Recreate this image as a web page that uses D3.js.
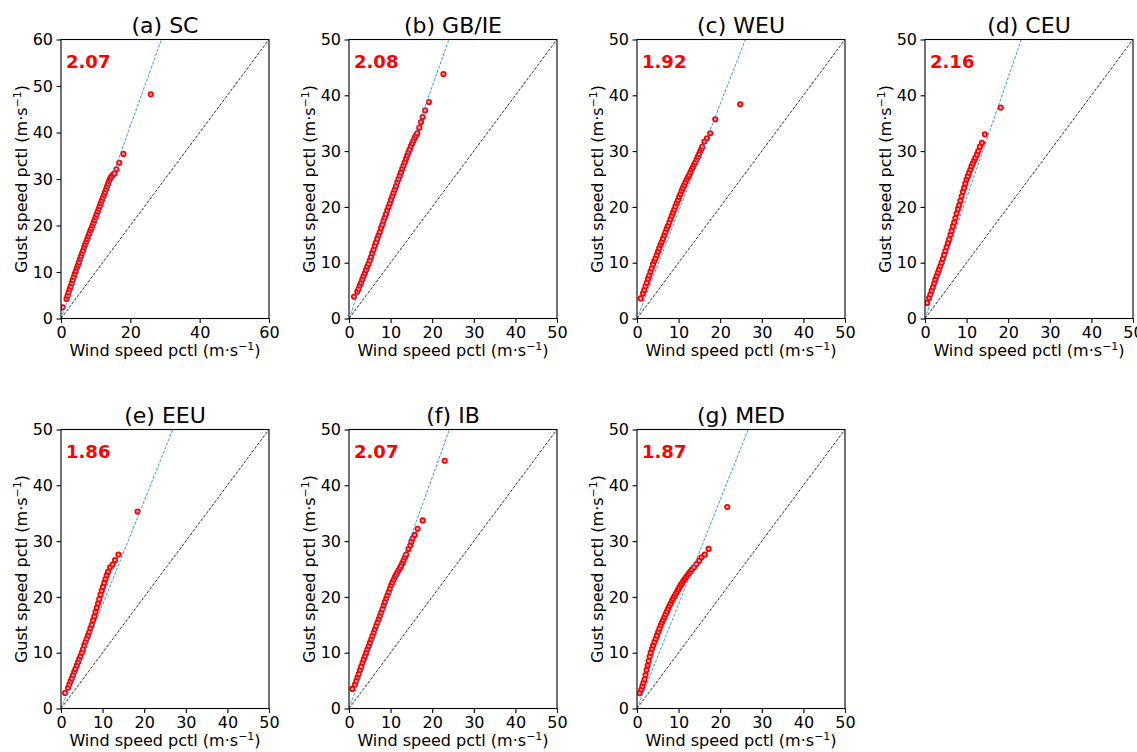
<!DOCTYPE html>
<html><head><meta charset="utf-8">
<script src="https://cdn.jsdelivr.net/npm/d3@7"></script>
<style>
body{margin:0;background:#fff}
text{font-family:"DejaVu Sans",sans-serif;fill:#000}
</style>
</head><body>
<svg id="c" width="1137" height="752"></svg>
<script>
// ---------------- data ----------------
const letters = ["a","b","c","d","e","f","g"];
const regions = ["SC","GB/IE","WEU","CEU","EEU","IB","MED"];
const ratios = [2.07,2.08,1.92,2.16,1.86,2.07,1.87];
const axisMax = [60,50,50,50,50,50,50];
const xTicks60 = [0,20,40,60];
const yTicks60 = [0,10,20,30,40,50,60];
const ticks50 = [0,10,20,30,40,50];

// [wind pctl, gust pctl] pairs
const ptsSC = [[0.5,2.4],[1.6,4.2],[1.9,4.9],[2.2,5.6],[2.5,6.3],[2.8,6.9],[3.1,7.6],[3.4,8.3],[3.7,8.9],[4.0,9.6],[4.3,10.2],[4.6,10.9],[4.9,11.5],[5.2,12.1],[5.5,12.8],[5.8,13.4],[6.1,14.0],[6.4,14.6],[6.7,15.3],[7.0,15.9],[7.3,16.5],[7.6,17.1],[7.9,17.7],[8.2,18.3],[8.5,18.9],[8.8,19.4],[9.1,20.0],[9.4,20.6],[9.7,21.2],[10.0,21.8],[10.3,22.4],[10.6,23.0],[10.9,23.6],[11.2,24.2],[11.5,24.8],[11.8,25.4],[12.1,26.0],[12.4,26.6],[12.7,27.2],[13.0,27.8],[13.3,28.4],[13.6,29.0],[13.9,29.6],[14.2,30.1],[14.5,30.5],[15.0,30.9],[15.4,31.2],[16.0,32.1],[16.8,33.5],[18.0,35.4],[25.9,48.2]];
const ptsGBIE = [[1.2,3.9],[2.0,4.8],[2.3,5.3],[2.6,5.9],[2.9,6.4],[3.2,7.0],[3.5,7.6],[3.8,8.1],[4.1,8.7],[4.4,9.3],[4.7,9.8],[5.0,10.4],[5.3,11.0],[5.6,11.7],[5.9,12.3],[6.2,13.0],[6.5,13.6],[6.8,14.3],[7.1,14.9],[7.4,15.5],[7.7,16.2],[8.0,16.8],[8.3,17.5],[8.6,18.1],[8.9,18.7],[9.2,19.4],[9.5,20.0],[9.8,20.6],[10.1,21.3],[10.4,21.9],[10.7,22.5],[11.0,23.1],[11.3,23.7],[11.6,24.4],[11.9,25.0],[12.2,25.6],[12.5,26.2],[12.8,26.8],[13.1,27.4],[13.4,28.0],[13.7,28.6],[14.0,29.2],[14.3,29.8],[14.6,30.3],[14.9,30.9],[15.2,31.4],[15.5,31.9],[15.8,32.4],[16.1,32.8],[16.4,33.2],[16.9,34.2],[17.3,35.2],[17.7,36.1],[18.3,37.3],[19.2,38.8],[22.7,43.8]];
const ptsWEU = [[0.9,3.6],[1.45,4.5],[1.75,5.1],[2.05,5.8],[2.35,6.4],[2.65,7.1],[2.95,7.7],[3.25,8.4],[3.55,9.0],[3.85,9.7],[4.15,10.3],[4.45,10.8],[4.75,11.4],[5.05,12.0],[5.35,12.6],[5.65,13.2],[5.95,13.7],[6.25,14.3],[6.55,14.9],[6.85,15.5],[7.15,16.1],[7.45,16.6],[7.75,17.2],[8.05,17.8],[8.35,18.4],[8.65,19.0],[8.95,19.5],[9.25,20.1],[9.55,20.7],[9.85,21.2],[10.15,21.8],[10.45,22.3],[10.75,22.9],[11.05,23.4],[11.35,23.9],[11.65,24.4],[11.95,24.9],[12.25,25.3],[12.55,25.7],[12.85,26.2],[13.15,26.7],[13.45,27.1],[13.75,27.6],[14.05,28.0],[14.35,28.5],[14.65,29.0],[14.95,29.5],[15.25,30.0],[15.5,30.4],[15.7,30.8],[16.2,31.7],[16.8,32.3],[17.6,33.2],[18.8,35.7],[24.8,38.4]];
const ptsCEU = [[0.5,2.8],[1.0,3.7],[1.3,4.3],[1.6,5.0],[1.9,5.6],[2.2,6.3],[2.5,7.0],[2.8,7.6],[3.1,8.2],[3.4,8.8],[3.7,9.4],[4.0,10.0],[4.3,10.7],[4.6,11.4],[4.9,12.1],[5.2,12.8],[5.5,13.5],[5.8,14.2],[6.1,15.0],[6.4,15.7],[6.7,16.5],[7.0,17.2],[7.3,18.0],[7.6,18.8],[7.9,19.6],[8.2,20.3],[8.5,21.1],[8.8,21.9],[9.1,22.7],[9.4,23.4],[9.7,24.2],[10.0,24.9],[10.3,25.5],[10.6,26.1],[10.9,26.7],[11.2,27.3],[11.5,27.8],[11.8,28.3],[12.1,28.8],[12.5,29.4],[12.8,30.0],[13.2,30.8],[13.7,31.5],[14.4,33.0],[18.2,37.8]];
const ptsEEU = [[1.0,2.8],[1.7,3.7],[2.0,4.3],[2.3,4.9],[2.6,5.4],[2.9,6.0],[3.2,6.6],[3.5,7.1],[3.8,7.7],[4.1,8.3],[4.4,8.9],[4.7,9.4],[5.0,10.0],[5.3,10.6],[5.6,11.3],[5.9,11.9],[6.2,12.5],[6.5,13.1],[6.8,13.7],[7.1,14.4],[7.4,15.0],[7.7,15.8],[8.0,16.5],[8.3,17.3],[8.6,18.1],[8.9,18.8],[9.2,19.6],[9.5,20.4],[9.8,21.1],[10.1,21.8],[10.4,22.5],[10.7,23.2],[11.0,23.9],[11.3,24.5],[11.8,25.3],[12.4,25.8],[13.0,26.6],[13.8,27.6],[18.4,35.3]];
const ptsIB = [[0.8,3.5],[1.45,4.3],[1.75,4.9],[2.05,5.6],[2.35,6.2],[2.65,6.9],[2.95,7.5],[3.25,8.2],[3.55,8.8],[3.85,9.4],[4.15,10.0],[4.45,10.6],[4.75,11.2],[5.05,11.8],[5.35,12.4],[5.65,13.0],[5.95,13.6],[6.25,14.2],[6.55,14.8],[6.85,15.4],[7.15,16.0],[7.45,16.6],[7.75,17.2],[8.05,17.8],[8.35,18.5],[8.65,19.1],[8.95,19.7],[9.25,20.3],[9.55,20.9],[9.85,21.5],[10.15,22.1],[10.45,22.6],[10.75,23.1],[11.05,23.6],[11.35,24.0],[11.65,24.4],[11.95,24.8],[12.25,25.2],[12.55,25.6],[12.85,26.1],[13.15,26.6],[13.45,27.1],[13.75,27.6],[14.3,28.6],[14.7,29.2],[15.0,29.9],[15.3,30.5],[15.8,31.1],[16.5,32.2],[17.7,33.7],[23.0,44.4]];
const ptsMED = [[0.65,2.75],[1.05,3.4],[1.3,4.0],[1.55,4.6],[1.8,5.2],[2.05,6.0],[2.3,6.9],[2.55,7.7],[2.8,8.5],[3.05,9.3],[3.3,10.0],[3.6,10.7],[3.9,11.3],[4.2,11.9],[4.5,12.5],[4.8,13.1],[5.1,13.7],[5.4,14.3],[5.7,14.9],[6.0,15.4],[6.3,15.9],[6.6,16.4],[6.9,16.9],[7.2,17.4],[7.5,17.9],[7.8,18.4],[8.1,18.8],[8.4,19.3],[8.7,19.7],[9.0,20.1],[9.3,20.5],[9.6,20.9],[9.9,21.3],[10.2,21.7],[10.5,22.1],[10.8,22.4],[11.1,22.8],[11.4,23.1],[11.7,23.4],[12.0,23.7],[12.3,24.0],[12.6,24.3],[12.9,24.6],[13.2,24.9],[13.7,25.3],[14.3,25.9],[14.95,26.5],[15.5,27.1],[16.3,27.6],[17.2,28.6],[21.7,36.1]];
const allPoints = [ptsSC, ptsGBIE, ptsWEU, ptsCEU, ptsEEU, ptsIB, ptsMED];

// ---------------- layout ----------------
const colLeft = [61, 349, 637, 925];
const rowTop = [39.5, 429.5];
const W = 208, H = 279;
const svg = d3.select("#c");

function unitLabel(sel, prefix) {
  sel.text(null);
  sel.append("tspan").text(prefix + " (m\u00b7s");
  sel.append("tspan").attr("font-size", "11px").attr("dy", "-6").text("\u22121");
  sel.append("tspan").attr("dy", "6").text(")");
}

regions.forEach((reg, i) => {
  const col = i % 4, row = Math.floor(i / 4);
  const L = colLeft[col], T = rowTop[row];
  const mx = axisMax[i];
  const xt = mx === 60 ? xTicks60 : ticks50;
  const yt = mx === 60 ? yTicks60 : ticks50;
  const g = svg.append("g").attr("transform", `translate(${L},${T})`);
  const x = d3.scaleLinear().domain([0, mx]).range([0, W]);
  const y = d3.scaleLinear().domain([0, mx]).range([H, 0]);

  const clipId = "clip" + i;
  g.append("clipPath").attr("id", clipId).append("rect")
    .attr("x", 0).attr("y", 0).attr("width", W).attr("height", H);
  const inner = g.append("g").attr("clip-path", `url(#${clipId})`);

  // points
  inner.selectAll("circle").data(allPoints[i]).join("circle")
    .attr("cx", d => x(d[0])).attr("cy", d => y(d[1]))
    .attr("r", 2.2)
    .attr("fill", "#ffb4b4").attr("stroke", "#ff0000").attr("stroke-width", 1.8);

  // 1:1 line
  inner.append("line")
    .attr("x1", x(0)).attr("y1", y(0)).attr("x2", x(mx)).attr("y2", y(mx))
    .attr("stroke", "#000").attr("stroke-width", 0.8).attr("stroke-dasharray", "3,1.5");
  // ratio line
  inner.append("line")
    .attr("x1", x(0)).attr("y1", y(0)).attr("x2", x(mx / ratios[i])).attr("y2", y(mx))
    .attr("stroke", "#1e90ff").attr("stroke-width", 0.9).attr("stroke-dasharray", "3,1.5");

  // axes
  const ax = g.append("g").attr("transform", `translate(0,${H})`)
    .call(d3.axisBottom(x).tickValues(xt).tickSize(4.5).tickPadding(3.5).tickSizeOuter(0));
  const ay = g.append("g")
    .call(d3.axisLeft(y).tickValues(yt).tickSize(4.5).tickPadding(3.5).tickSizeOuter(0));
  [ax, ay].forEach(a => {
    a.select(".domain").remove();
    a.selectAll(".tick line").attr("stroke", "#000").attr("stroke-width", 1.1);
    a.selectAll(".tick text").attr("font-size", "16px").attr("font-family", "DejaVu Sans").attr("fill", "#000");
  });

  // frame
  g.append("rect").attr("x", 0).attr("y", 0).attr("width", W).attr("height", H)
    .attr("fill", "none").attr("stroke", "#000").attr("stroke-width", 1.1);

  // title
  g.append("text").attr("x", W / 2).attr("y", -7).attr("text-anchor", "middle")
    .attr("font-size", "22px").text(`(${letters[i]}) ${reg}`);

  // ratio text
  g.append("text").attr("x", 5).attr("y", 28).attr("font-size", "18px")
    .attr("font-weight", "bold").style("fill", "#ff0000").text(ratios[i].toFixed(2));

  // axis labels
  g.append("text").attr("x", W / 2).attr("y", H + 37).attr("text-anchor", "middle")
    .attr("font-size", "16px").call(unitLabel, "Wind speed pctl");
  g.append("text").attr("transform", `translate(-34.5,${H / 2}) rotate(-90)`)
    .attr("text-anchor", "middle").attr("font-size", "16px").call(unitLabel, "Gust speed pctl");
});
</script>
</body></html>
